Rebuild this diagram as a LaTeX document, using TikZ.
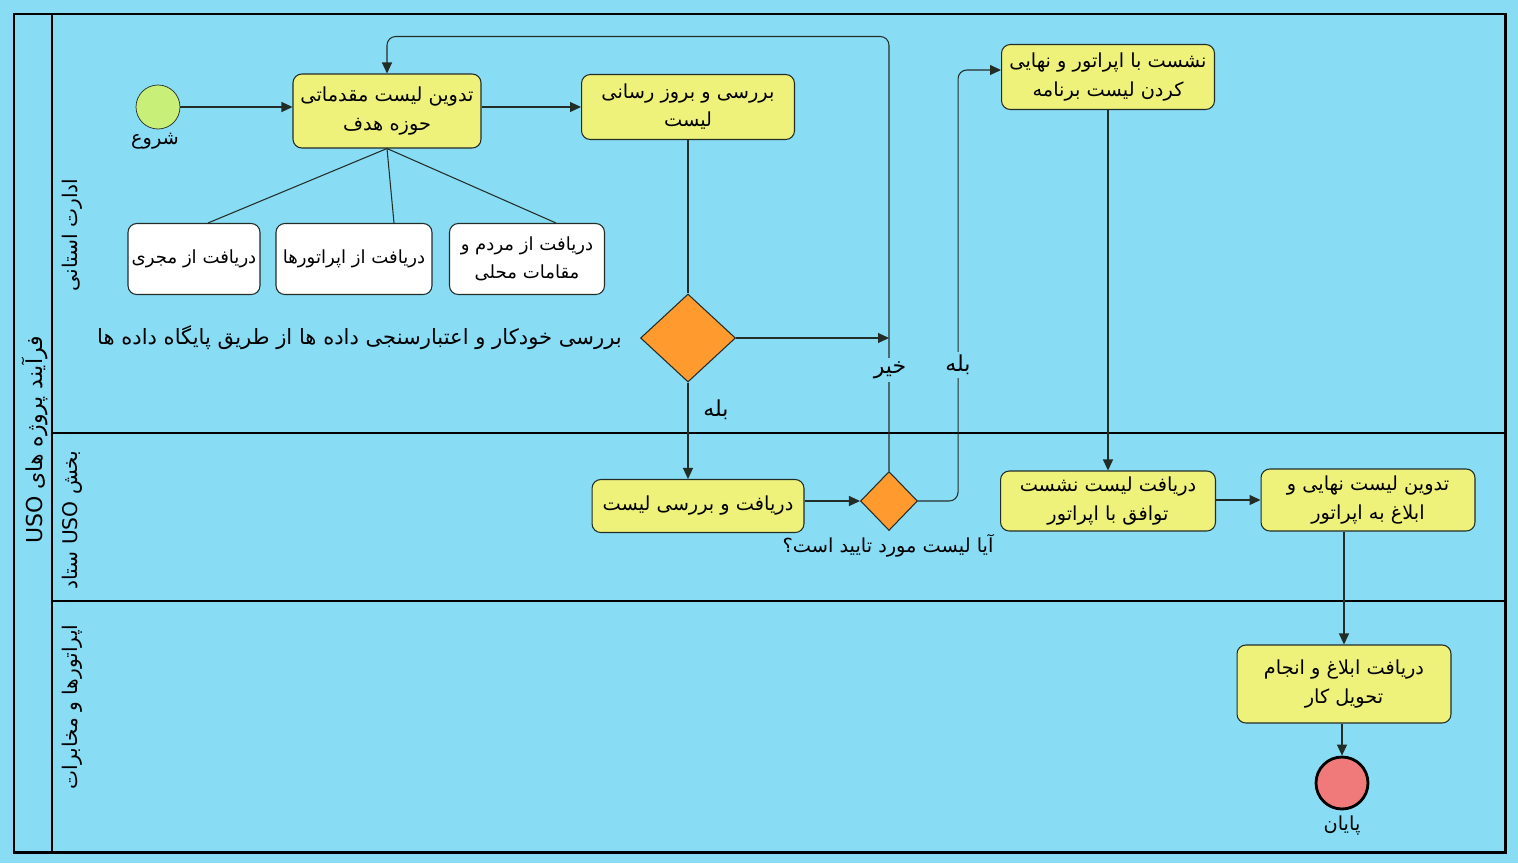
\documentclass[tikz,border=0pt]{standalone}
\usepackage{fontspec}
\usepackage{tikz}
\usetikzlibrary{shapes.geometric,arrows.meta,calc}
\newfontfamily\persianfont[Script=Arabic]{DejaVu Sans}
\TeXXeTstate=1
\newcommand{\fatxt}[1]{\beginR #1\endR}
\definecolor{poolbg}{RGB}{136,220,244}
\definecolor{taskfill}{RGB}{238,242,122}
\definecolor{gatefill}{RGB}{255,154,46}
\definecolor{startfill}{RGB}{200,240,120}
\definecolor{endfill}{RGB}{240,122,122}
\definecolor{edge}{RGB}{35,45,40}

\begin{document}
\begin{tikzpicture}[x=0.02cm,y=-0.02cm,
  every node/.style={font=\persianfont\fontsize{11}{16}\selectfont,text=black},
  task/.style={draw=edge,fill=taskfill,rounded corners=5pt,align=center,inner sep=2pt,line width=0.6pt},
  source/.style={task,fill=white,font=\persianfont\fontsize{10.3}{16}\selectfont},
  gate/.style={diamond,draw=edge,fill=gatefill,inner sep=0pt,line width=0.6pt},
  flow/.style={-{Triangle[length=2.2mm,width=2mm]},draw=edge,line width=0.6pt},
  link/.style={draw=edge,line width=0.6pt},
  lane/.style={rotate=90,font=\persianfont\fontsize{11.5}{14}\selectfont},
  lbl/.style={fill=poolbg,inner sep=2pt,font=\persianfont\fontsize{12.5}{16}\selectfont}]
  \fill[poolbg] (0,0) rectangle (1518,863);
  \useasboundingbox (0,0) rectangle (1518,863);

  \draw[line width=1.7pt] (14,14) rectangle (1505,852);
  \draw[line width=1pt] (52,14) -- (52,852);
  \draw[line width=0.8pt] (52,433) -- (1505,433) (52,601) -- (1505,601);

  \node[lane,font=\persianfont\fontsize{12.5}{16}\selectfont] (pool) at (35,440) {\fatxt{فرآیند پروژه های \beginL USO\endL}};
  \node[lane] (lane1) at (72,235) {\fatxt{ادارت استانی}};
  \node[lane] (lane2) at (72,520) {\fatxt{بخش \beginL USO\endL{} ستاد}};
  \node[lane] (lane3) at (72,707) {\fatxt{اپراتورها و مخابرات}};

  \node[circle,draw=edge,fill=startfill,minimum size=0.88cm] (start) at (158,107) {};
  \node (startlbl) at (155,141) {\fatxt{شروع}};
  \node[task,minimum width=3.76cm,minimum height=1.48cm] (A) at (387,111) {\fatxt{تدوین لیست مقدماتی}\\\fatxt{حوزه هدف}};
  \node[task,minimum width=4.26cm,minimum height=1.3cm] (B) at (688,107) {\fatxt{بررسی و بروز رسانی}\\\fatxt{لیست}};
  \node[task,minimum width=4.26cm,minimum height=1.3cm] (D) at (1108,77) {\fatxt{نشست با اپراتور و نهایی}\\\fatxt{کردن لیست برنامه}};
  \node[source,minimum width=2.64cm,minimum height=1.42cm] (W1) at (194,259) {\fatxt{دریافت از مجری}};
  \node[source,minimum width=3.12cm,minimum height=1.42cm] (W2) at (354,259) {\fatxt{دریافت از اپراتورها}};
  \node[source,minimum width=3.1cm,minimum height=1.42cm] (W3) at (527,259) {\fatxt{دریافت از مردم و}\\\fatxt{مقامات محلی}};
  \node[gate,minimum width=1.9cm,minimum height=1.76cm] (d1) at (688,338) {};
  \node[anchor=east,font=\persianfont\fontsize{12}{16}\selectfont] (checklbl) at (628,338) {\fatxt{بررسی خودکار و اعتبارسنجی داده ها از طریق پایگاه داده ها}};
  \node[task,minimum width=4.24cm,minimum height=1.06cm] (C) at (698,506) {\fatxt{دریافت و بررسی لیست}};
  \node[gate,minimum width=1.14cm,minimum height=1.18cm] (d2) at (889,501) {};
  \node (q) at (888,546) {\fatxt{آیا لیست مورد تایید است؟}};
  \node[task,minimum width=4.3cm,minimum height=1.2cm] (E) at (1108,501) {\fatxt{دریافت لیست نشست}\\\fatxt{توافق با اپراتور}};
  \node[task,minimum width=4.28cm,minimum height=1.24cm] (F) at (1368,500) {\fatxt{تدوین لیست نهایی و}\\\fatxt{ابلاغ به اپراتور}};
  \node[task,minimum width=4.28cm,minimum height=1.56cm] (G) at (1344,684) {\fatxt{دریافت ابلاغ و انجام}\\\fatxt{تحویل کار}};
  \node[circle,draw=black,line width=1.6pt,fill=endfill,minimum size=1.04cm] (end) at (1342,783) {};
  \node (endlbl) at (1342,826) {\fatxt{پایان}};

  \draw[flow] (start.east) -- (start.east -| A.west);
  \draw[flow] (B.west -| A.east) -- (B.west);
  \draw[link] (A.south) -- ($(W1.north)+(14,0)$);
  \draw[link] (A.south) -- ($(W2.north)+(40,0)$);
  \draw[link] (A.south) -- ($(W3.north)+(29,0)$);
  \draw[link] (B.south) -- (d1.north);
  \draw[flow] (d1.south) -- (d1.south |- C.north);
  \draw[flow] (d1.east) -- (d1.east -| d2.north);
  \draw[flow] (C.east |- d2.west) -- (d2.west);
  \draw[flow,rounded corners=5pt] (d2.north) |- ($(A.north)+(0,-37)$) -- (A.north);
  \draw[flow,rounded corners=5pt] (d2.east) -- ++(40,0) |- ($(D.west)+(0,-7)$);
  \draw[flow] (D.south) -- (E.north);
  \draw[flow] (F.west -| E.east) -- (F.west);
  \draw[flow] (G.north |- F.south) -- (G.north);
  \draw[flow] (end.north |- G.south) -- (end.north);

  \node[lbl,fill=none] (yes1) at (716,410) {\fatxt{بله}};
  \node[lbl] (no) at (890,370) {\fatxt{خیر}};
  \node[lbl] (yes2) at (958,365) {\fatxt{بله}};
\end{tikzpicture}
\end{document}
